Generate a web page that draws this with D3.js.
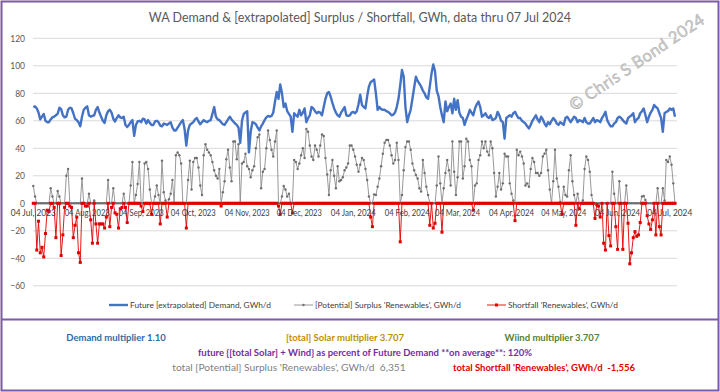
<!DOCTYPE html>
<html><head><meta charset="utf-8">
<script src="https://cdn.jsdelivr.net/npm/d3@7"></script>
<style>
body{margin:0;background:#fff}
svg{display:block}
text{font-family:Lato,"Open Sans",sans-serif}
</style>
</head><body>
<svg id="chart" width="720" height="392"></svg>
<script>
// ---------- DATA ----------
const startDate = "2023-07-04";
const endDate = "2024-07-07";

const demand = [
70,70.5,69,66,61,63,65,60,59,59,
61,62.5,63,64,65,69.5,68.5,64,62.5,63,
68,69.5,69,65.5,61.5,60.5,59,56,63,68,
69.5,70.5,64,63,63.5,64,68,70,66,63,
60,58.5,64,67,68,66,61.5,59.5,62,64,
62.5,62,63,57,55.5,57,59,60.5,49,57,
59.5,60,59,61.5,61,58,60.5,58.5,57,57,
59.5,60,59,56.5,56,58,57.5,57,58,59,
55,53,53,55,57,59,60.5,54,42,53,
57,58,59,61,62,59.5,57.5,59,60.5,59.5,
59,60,60.5,65,70,63,61,60.5,59,57.5,
57,59,61,63,61,59.5,58,57,55,44,
60,65,66,67,37,52,59,58.5,57.5,55,
53,56,58,60.5,62.5,63.5,63,63.5,66,74,
81,76,86.5,80,70,72.5,67,65,63,52,
65.5,64,63,68,64,66,69,59,62,64,
70,69,67,65.5,66.5,66,64,70,76,80,
81,77.5,73,69,66,64,63,66,68,70,
64,63.5,64,66,66.5,65.5,67,72,79,71.5,
70,69,78,85,88,89,90,80,68,70,
68.5,68,68,67,66.5,65.5,64,64.5,66,70,
76,86,97,92,70,59,64,68,76,84,
92,89,87,85,82,80,77,76,85,94.5,
101,96,82,78,70,64,59,74,67,70,
72.5,65.5,76,68,75,66,63,62,57,61,
64,68,66,64,69,72,74,70,63,64,
65.5,63,62,64,60.5,61,62,66.5,64,60,
59,47,62,63,64,63,65.5,66.5,64,62,
62,60,59,58,56,54.5,57,60,62,64,
61,59,63,61,58,56,59,57.5,60,62,
60.5,58,57,59,58,57,62,63,61,59,
61,63,62,59,60.5,60,59,62,59,58,
58,60,62,59,60.5,60,59,62,64,66.5,
60.5,58,56,56,58,59,62,63,62,60.5,
59,58,62,63,64,65.5,59,61,62,65.5,
67,69,64,59,63,66,68,71.5,70,69,
65.5,62,52,65.5,66.5,67,69,68,69,63
];

const surplus = [
12.6,5,0,0,0,0,0,0,0,0,
11,5,0,0,9,5,0,0,0,20,
25,0,0,0,0,0,0,0,18,0,
0,0,7,0,0,2,0,0,0,0,
0,0,0,17,0,0,11,0,0,0,
0,0,7,0,0,0,13,30,0,6,
14,30,0,0,29,30,25,10,0,0,
5,13,6,0,31,8,2,0,3,7,
17,0,35,37,35,29,0,0,0,17,
31,10,30,33,33,26,13,6,35,43,
39,37,35,30,24,20,18,25,0,8,
16,32,39,26,16,45,45,32,43,0,
29,30,36,27,25,19,24,27,40,48,
50,11,23,25,40,53,46,39,34,45,
53,0,0,5,12.6,10,5,7,0,0,
31.5,30,25,29,35,40,33,54,52,42,
34,31.5,42,39,34,42,50,49,33,21,
6,24,31.5,20,11,27,16,17,19,24,
26,29,42,42,39,34,28,23,28,33,
31.5,25,17,5,0,0,6.5,6,12,18,
27,36,44,46,46,42,35,29,31.5,44,
31.5,0,6,24,41,45,45,39,29,24,
20.6,18,11,8.5,31.5,22,12,6,0,0,
0,0,13,34,14.5,0,11,22,31.5,24,
13,45,23,6,19,45,45,18,27,47,
45,31.5,27,0,13,14.5,31.5,35,45,40,
45,37.6,35,45,40,22,5,12,22,10,
14.5,36,34,34,14.5,7,2,0,39,35,
37.6,34,29,13,14.5,12,25,33,30,22,
22,20,22,34,36,39,24,10,0,16,
39,18,12,1,0,12,6,5,24,35,
16,6,0,7,0,0,2,25,34,31.5,
23,6,0,0,0,0,0,0,0,0,
0,0,0,23,7,0,0,16,0,0,
0,13,0,0,0,0,0,0,0,0,
5,5.3,2.4,0,0,0,0,0,0,11,
0,0,11,2,31.5,30,34,28,14.5,0
];

const shortfall = [
0,0,-34,-13,-36,-32,-39,-22,-5,-6,
0,0,-3,-25,0,0,-38,-23,-3,0,
0,-2,-3,-25,-16,-10,-36,-43,0,0,
-2,-2,0,-12,-29,0,-15,-29,-15,-15,
-15,-18,-10,0,-17,-3,0,-7,-8,-18,
-4,-3,0,-3,-14,0,0,0,0,0,
0,0,-2,-6,0,0,0,0,-8,0,
0,0,0,-15,0,0,0,-10,0,0,
0,0,0,0,0,0,0,0,-18,0,
0,0,0,0,0,0,0,0,0,0,
0,0,0,0,0,0,0,0,-2,0,
0,0,0,0,0,0,0,0,0,0,
0,0,0,0,0,0,0,0,0,0,
0,0,0,0,0,0,0,0,0,0,
0,-2,-8,0,0,0,0,0,0,-7,
0,0,0,0,0,0,0,0,0,0,
0,0,0,0,0,0,0,0,0,0,
0,0,0,0,0,0,0,0,0,0,
0,0,0,0,0,0,0,0,0,0,
0,0,0,0,-10,-17,0,0,0,0,
0,0,0,0,0,0,0,0,0,0,
0,-28,0,0,0,0,0,0,0,0,
0,0,0,0,0,0,0,0,-16,0,
-18,-14.5,0,0,0,-21,0,0,0,0,
0,0,0,0,0,0,0,0,0,0,
0,0,0,-5,0,0,0,0,0,0,
0,0,0,0,0,0,0,0,0,0,
0,0,0,0,0,0,0,-12.6,0,0,
0,0,0,0,0,0,0,0,0,0,
0,0,0,0,0,0,0,0,0,0,
0,0,0,0,-8,0,0,0,0,0,
0,0,-16,0,-4,0,0,0,0,0,
0,0,0,-11,-1,-2,-10,0,-29,-34,
0,-23.5,-31,0,0,-17,-33.5,0,0,-33.5,
0,0,-14.5,-44,-36,-25,-20.6,-24,-23,-14,
0,0,0,-9,-15,-19,-12,0,-23,0,
-17,-23,0,0,0,0,0,0,0,0
];

const yTicks = [-60,-40,-20,0,20,40,60,80,100,120];
const xTickDates = ["2023-07-04","2023-08-04","2023-09-04","2023-10-04","2023-11-04","2023-12-04",
  "2024-01-04","2024-02-04","2024-03-04","2024-04-04","2024-05-04","2024-06-04","2024-07-04"];
const xTickLabels = ["04 Jul, 2023","04 Aug, 2023","04 Sep, 2023","04 Oct, 2023","04 Nov, 2023","04 Dec, 2023",
  "04 Jan, 2024","04 Feb, 2024","04 Mar, 2024","04 Apr, 2024","04 May, 2024","04 Jun, 2024","04 Jul, 2024"];

const titleText = "WA Demand & [extrapolated] Surplus / Shortfall, GWh, data thru 07 Jul 2024";
const seriesNames = ["Future [extrapolated] Demand, GWh/d","[Potential] Surplus 'Renewables', GWh/d","Shortfall 'Renewables', GWh/d"];
const watermark = "\u00A9 Chris S Bond  2024";

// ---------- DRAW ----------
const svg = d3.select("#chart");
const parse = d3.utcParse("%Y-%m-%d");
const t0 = parse(startDate);
const dates = demand.map((d,i)=> d3.utcDay.offset(t0, i));

const x = d3.scaleUtc().domain([t0, parse(endDate)]).range([33.3, 675]);
const y = d3.scaleLinear().domain([-60,120]).range([285.8, 38.3]);

svg.append("rect").attr("width",720).attr("height",392).attr("fill","#fff");

// gridlines
svg.append("g").selectAll("line").data(yTicks).join("line")
  .attr("x1",33).attr("x2",677)
  .attr("y1",d=>y(d)).attr("y2",d=>y(d))
  .attr("stroke","#d9d9d9").attr("stroke-width",1);

// y labels
const yAxis = d3.axisLeft(y).tickValues(yTicks).tickSize(0).tickPadding(0).tickFormat(d3.format("d"));
const gy = svg.append("g").attr("transform","translate(25,0)").call(yAxis);
gy.select(".domain").remove();
gy.selectAll("text").attr("fill","#595959").attr("font-size",8.5).attr("font-family","Lato");

// title
svg.append("text").attr("x",360).attr("y",22).attr("text-anchor","middle")
  .attr("font-size",12.5).attr("fill","#595959").text(titleText);

// watermark
svg.append("text").attr("transform","translate(640,67) rotate(-34)")
  .attr("text-anchor","middle").attr("font-size",16.5).attr("fill","#d0d0d0")
  .attr("stroke","#a6a6a6").attr("stroke-width",0.4).attr("letter-spacing",0.3)
  .text(watermark);

// demand line
svg.append("path").datum(demand)
  .attr("fill","none").attr("stroke","#4472c4").attr("stroke-width",2.4).attr("stroke-linejoin","round")
  .attr("d", d3.line().x((d,i)=>x(dates[i])).y(d=>y(d)));

// surplus
svg.append("path").datum(surplus)
  .attr("fill","none").attr("stroke","#8c8c8c").attr("stroke-width",0.9)
  .attr("d", d3.line().x((d,i)=>x(dates[i])).y(d=>y(d)));
svg.append("g").selectAll("circle").data(surplus).join("circle")
  .attr("cx",(d,i)=>x(dates[i])).attr("cy",d=>y(d)).attr("r",1.2).attr("fill","#6f6f6f");

// shortfall
svg.append("path").datum(shortfall)
  .attr("fill","none").attr("stroke","#e00000").attr("stroke-width",0.9)
  .attr("d", d3.line().x((d,i)=>x(dates[i])).y(d=>y(d)));
svg.append("g").selectAll("rect").data(shortfall).join("rect")
  .attr("x",(d,i)=>x(dates[i])-1.5).attr("y",d=>y(d)-1.5).attr("width",3).attr("height",3)
  .attr("fill","#e00000");

// x tick labels at zero line
svg.append("g").selectAll("text").data(xTickDates).join("text")
  .attr("x",d=>x(parse(d))).attr("y",y(0)+13).attr("text-anchor","middle")
  .attr("font-size",8.8).attr("textLength",45).attr("lengthAdjust","spacingAndGlyphs")
  .attr("fill","#404040")
  .text((d,i)=>xTickLabels[i]);

// legend
const lg = svg.append("g").attr("transform","translate(0,305)");
const legendX = [109, 294, 487];
const legendColors = ["#4472c4","#8c8c8c","#e00000"];
seriesNames.forEach((n,i)=>{
  lg.append("line").attr("x1",legendX[i]).attr("x2",legendX[i]+19).attr("y1",0).attr("y2",0)
    .attr("stroke",legendColors[i]).attr("stroke-width", i===0?2.4:0.9);
  if(i===1) lg.append("circle").attr("cx",legendX[i]+9.5).attr("cy",0).attr("r",1.2).attr("fill","#6f6f6f");
  if(i===2) lg.append("rect").attr("x",legendX[i]+8).attr("y",-1.5).attr("width",3).attr("height",3).attr("fill","#e00000");
  lg.append("text").attr("x",legendX[i]+21).attr("y",3).attr("font-size",8.3).attr("fill","#404040").text(n);
});

// frames
svg.append("rect").attr("x",1.5).attr("y",1.5).attr("width",717).attr("height",389)
  .attr("fill","none").attr("stroke","#7b5aa6").attr("stroke-width",2);
svg.append("line").attr("x1",1.5).attr("x2",718.5).attr("y1",319.5).attr("y2",319.5)
  .attr("stroke","#7b5aa6").attr("stroke-width",2);

// bottom notes
const notes = [
  {t:"Demand multiplier 1.10", x:116, y:341, c:"#2e6da4", a:"middle"},
  {t:"[total] Solar multiplier 3.707", x:345, y:341, c:"#bf9000", a:"middle"},
  {t:"Wiind multiplier 3.707", x:552, y:341, c:"#548235", a:"middle"},
  {t:"future {[total Solar] + Wind} as percent of Future Demand **on average**: 120%", x:365, y:356, c:"#7030a0", a:"middle"},
  {t:"total [Potential] Surplus 'Renewables', GWh/d  6,351", x:289, y:371, c:"#7f7f7f", a:"middle", w:"normal", s:10.2},
  {t:"total Shortfall 'Renewables', GWh/d  -1,556", x:544, y:371, c:"#e00000", a:"middle"}
];
svg.append("g").selectAll("text").data(notes).join("text")
  .attr("x",d=>d.x).attr("y",d=>d.y).attr("text-anchor",d=>d.a)
  .attr("font-size",d=>d.s||9.5).attr("font-weight",d=>d.w||"bold").attr("fill",d=>d.c)
  .attr("xml:space","preserve")
  .text(d=>d.t);
</script>
</body></html>
